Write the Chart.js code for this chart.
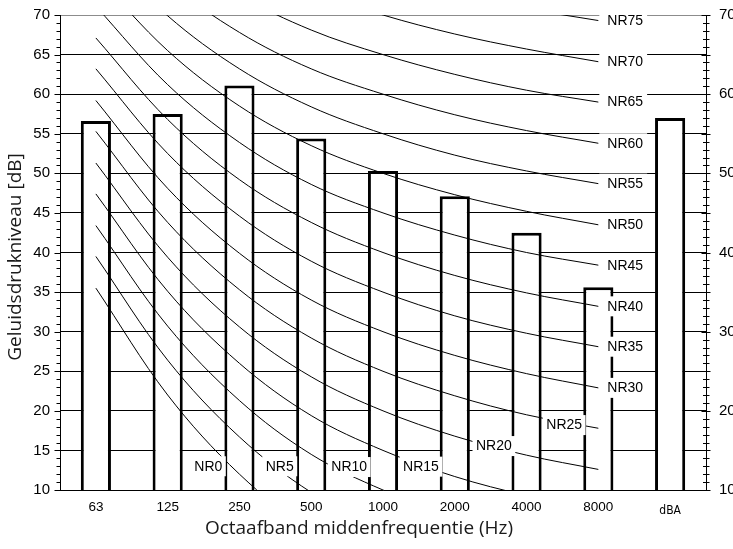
<!DOCTYPE html>
<html>
<head>
<meta charset="utf-8">
<title>NR-curves en octaafbandniveaus</title>
<style>
  html, body { margin: 0; padding: 0; background: #fff; }
  canvas { display: block; }
</style>
<script src="https://cdn.jsdelivr.net/npm/chart.js@4.4.1/dist/chart.umd.min.js"></script>
</head>
<body>
<canvas id="chart" width="733" height="549"></canvas>
<script>
// Octave band centre frequencies plus the overall A-weighted level
const bands = ['63', '125', '250', '500', '1000', '2000', '4000', '8000', 'dBA'];

// Measured sound pressure level per band [dB]
const measuredLevels = [56.6, 57.5, 61.1, 54.4, 50.3, 47.1, 42.5, 35.6, 57.0];

// Noise Rating curves, 63 Hz .. 8000 Hz [dB]
const nr0  = [35.5, 22.0, 12.0,  4.8,  0.0, -3.5, -6.1, -8.0];
const nr5  = [39.5, 26.4, 16.7,  9.7,  5.0,  1.6, -1.0, -2.9];
const nr10 = [43.4, 30.7, 21.3, 14.5, 10.0,  6.7,  4.2,  2.3];
const nr15 = [47.4, 35.1, 26.0, 19.4, 15.0, 11.7,  9.3,  7.5];
const nr20 = [51.3, 39.4, 30.6, 24.3, 20.0, 16.8, 14.4, 12.6];
const nr25 = [55.3, 43.8, 35.3, 29.2, 25.0, 21.9, 19.5, 17.8];
const nr30 = [59.2, 48.1, 39.9, 34.0, 30.0, 27.0, 24.7, 22.9];
const nr35 = [63.2, 52.5, 44.6, 38.9, 35.0, 32.0, 29.8, 28.1];
const nr40 = [67.1, 56.8, 49.2, 43.8, 40.0, 37.1, 34.9, 33.2];
const nr45 = [71.1, 61.2, 53.9, 48.6, 45.0, 42.2, 40.0, 38.4];
const nr50 = [75.0, 65.5, 58.5, 53.5, 50.0, 47.3, 45.2, 43.5];
const nr55 = [79.0, 69.9, 63.2, 58.4, 55.0, 52.3, 50.3, 48.7];
const nr60 = [82.9, 74.2, 67.8, 63.2, 60.0, 57.4, 55.4, 53.8];
const nr65 = [86.9, 78.6, 72.5, 68.1, 65.0, 62.5, 60.5, 59.0];
const nr70 = [90.8, 82.9, 77.1, 73.0, 70.0, 67.6, 65.7, 64.1];
const nr75 = [94.8, 87.3, 81.8, 77.9, 75.0, 72.7, 70.8, 69.3];

const nrLevels = [0, 5, 10, 15, 20, 25, 30, 35, 40, 45, 50, 55, 60, 65, 70, 75];
const nrCurves = [nr0, nr5, nr10, nr15, nr20, nr25, nr30, nr35, nr40, nr45, nr50, nr55, nr60, nr65, nr70, nr75];

// Lower curves are labelled on the curve itself: [band position, level in dB]
const inlineLabelAt = {
  0:  [1.566, 13.0],
  5:  [2.561, 13.0],
  10: [3.529, 12.9],
  15: [4.529, 12.95],
  20: [5.545, 15.55],
  25: [6.524, 18.2]
};

// Axis range and tick labels
const yMin = 10, yMax = 70;
const leftTickLabels = [10, 15, 20, 25, 30, 35, 40, 45, 50, 55, 60, 65, 70];
const rightTickLabels = [10, 20, 30, 40, 50, 60, 70];

const LABEL_FONT = '14px "Liberation Sans", Arial, sans-serif';
const TITLE_FONT = '"Open Sans", "DejaVu Sans", sans-serif';

// Curve names with a white backing box
const nrLabelPlugin = {
  id: 'nrLabels',
  afterDatasetsDraw(chart) {
    const { ctx, scales: { x, y } } = chart;
    ctx.save();
    ctx.font = LABEL_FONT;
    ctx.textBaseline = 'middle';
    nrLevels.forEach((lvl, i) => {
      const text = 'NR' + lvl;
      const w = ctx.measureText(text).width;
      let tx, ty, bx0, bx1;
      if (inlineLabelAt[lvl]) {
        const [ix, v] = inlineLabelAt[lvl];
        const cx = x.getPixelForValue(ix);
        ty = y.getPixelForValue(v);
        tx = cx - w / 2;
        bx0 = tx - 3.5;
        bx1 = tx + w + 3.5;
      } else {
        const last = nrCurves[i].length - 1;
        const ex = x.getPixelForValue(last);
        ty = y.getPixelForValue(nrCurves[i][last]);
        tx = ex + 9;
        bx0 = ex + 1;
        bx1 = tx + w + 4;
      }
      ctx.fillStyle = '#fff';
      ctx.fillRect(bx0, ty - 10, bx1 - bx0, 20);
      ctx.fillStyle = '#000';
      ctx.fillText(text, tx, ty + 0.5);
    });
    ctx.restore();
  }
};

// Minor/major tick marks on both value axes, plus the axis titles
const axisDecorPlugin = {
  id: 'axisDecor',
  afterDraw(chart) {
    const { ctx, chartArea: { left, right }, scales: { y } } = chart;
    ctx.save();
    ctx.strokeStyle = '#000';
    ctx.lineWidth = 1;
    ctx.beginPath();
    y.ticks.forEach(t => {
      const py = Math.round(y.getPixelForValue(t.value)) + 0.5;
      const major = t.value % 5 === 0;
      ctx.moveTo(left - (major ? 5.5 : 3.5), py);
      ctx.lineTo(left, py);
      ctx.moveTo(right - (major ? 4.5 : 3), py);
      ctx.lineTo(right + (major ? 4.5 : 3.5), py);
    });
    ctx.stroke();

    ctx.fillStyle = '#1a1a1a';
    ctx.textAlign = 'center';
    ctx.textBaseline = 'middle';
    ctx.font = '19px ' + TITLE_FONT;
    ctx.fillText('Octaafband middenfrequentie (Hz)', 359, 529);

    ctx.translate(16, 257);
    ctx.rotate(-Math.PI / 2);
    ctx.font = '19px ' + TITLE_FONT;
    ctx.fillText('Geluidsdrukniveau [dB]', 0, 0);
    ctx.restore();
  }
};

// Value axes keep their full height; the outer margin is set by layout padding
function fixVerticalAxis(width) {
  return (scale) => {
    scale.width = width;
    scale.paddingTop = 0;
    scale.paddingBottom = 0;
  };
}

const datasets = [{
  type: 'bar',
  label: 'Gemeten',
  data: measuredLevels,
  backgroundColor: '#fff',
  borderColor: '#000',
  borderWidth: 3,
  borderSkipped: false,
  barPercentage: 0.42,
  categoryPercentage: 1,
  order: 2
}];

nrCurves.forEach((curve, i) => {
  datasets.push({
    type: 'line',
    label: 'NR' + nrLevels[i],
    data: curve,
    borderColor: '#000',
    borderWidth: 1,
    pointRadius: 0,
    pointHoverRadius: 0,
    tension: 0.35,
    fill: false,
    order: 1
  });
});

new Chart(document.getElementById('chart'), {
  data: { labels: bands, datasets },
  options: {
    responsive: false,
    devicePixelRatio: 1,
    animation: false,
    events: [],
    layout: { padding: { top: 15, left: 0, right: 0, bottom: 0 } },
    plugins: { legend: { display: false }, tooltip: { enabled: false } },
    scales: {
      x: {
        offset: true,
        grid: { display: false, drawTicks: false },
        border: { display: true, color: '#000', width: 1 },
        ticks: {
          color: '#000',
          padding: 9,
          maxRotation: 0,
          autoSkip: false,
          font: (c) => c.index === 8
            ? { family: '"DejaVu Sans Condensed", "Liberation Sans Narrow", sans-serif', size: 12, lineHeight: 2.0 }
            : { family: '"Liberation Sans", Arial, sans-serif', size: 13.5 }
        },
        afterFit(scale) { scale.height = 59; scale.paddingLeft = 0; scale.paddingRight = 0; }
      },
      y: {
        position: 'left',
        min: yMin,
        max: yMax,
        grid: {
          drawTicks: false,
          color: (c) => {
            const v = c.tick && c.tick.value;
            if (v === yMax) return '#8c8c8c';
            return leftTickLabels.includes(v) ? '#000' : 'rgba(0,0,0,0)';
          },
          lineWidth: 1
        },
        border: { display: true, color: '#000', width: 1 },
        ticks: {
          stepSize: 1,
          autoSkip: false,
          maxTicksLimit: 200,
          padding: 10,
          color: '#000',
          font: { family: '"Liberation Sans", Arial, sans-serif', size: 15 },
          callback: (v) => leftTickLabels.includes(v) ? String(v) : ''
        },
        afterFit: fixVerticalAxis(60)
      },
      y2: {
        position: 'right',
        min: yMin,
        max: yMax,
        grid: { drawOnChartArea: false, drawTicks: false },
        border: { display: true, color: '#000', width: 1 },
        ticks: {
          stepSize: 1,
          autoSkip: false,
          maxTicksLimit: 200,
          padding: 13,
          color: '#000',
          font: { family: '"Liberation Sans", Arial, sans-serif', size: 15 },
          callback: (v) => rightTickLabels.includes(v) ? String(v) : ''
        },
        afterFit: fixVerticalAxis(27)
      }
    }
  },
  plugins: [nrLabelPlugin, axisDecorPlugin]
});
</script>
</body>
</html>
